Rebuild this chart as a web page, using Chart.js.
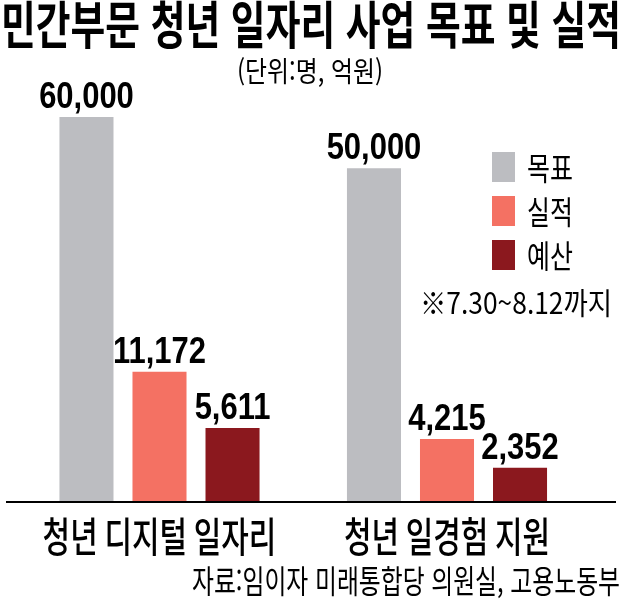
<!DOCTYPE html>
<html lang="ko">
<head>
<meta charset="utf-8">
<script src="https://cdn.jsdelivr.net/npm/chart.js@4.4.1/dist/chart.umd.min.js"></script>
<style>
  html, body { margin: 0; padding: 0; background: #fff; }
  #wrap { position: relative; width: 623px; height: 602px; overflow: hidden;
          font-family: "Noto Sans CJK KR", "Noto Sans", sans-serif; color: #000; }
  #c { position: absolute; left: 0; top: 0; }
  .t { position: absolute; white-space: nowrap; line-height: 1; transform-origin: 0 0; }
  #title { font-size: 51px; font-weight: 700; left: 1px; top: -3px; }
  #unit { font-size: 28px; left: 237px; top: 56px; }
  #note { font-size: 30px; left: 420px; top: 286px; }
  #source { font-size: 32px; left: 192px; top: 563px; }
</style>
</head>
<body>
<div id="wrap">
  <canvas id="c" width="623" height="602"></canvas>
  <div class="t" id="title" data-w="620">민간부문 청년 일자리 사업 목표 및 실적</div>
  <div class="t" id="unit" data-w="146">(단위:명, 억원)</div>
  <div class="t" id="note" data-w="192">※7.30~8.12까지</div>
  <div class="t" id="source" data-w="428">자료:임이자 미래통합당 의원실, 고용노동부</div>
</div>
<script>
const categories = ["청년 디지털 일자리", "청년 일경험 지원"];
const seriesNames = ["목표", "실적", "예산"];

// printed figures (목표·실적: 명, 예산: 억원)
const targets = [60000, 50000];
const results = [11172, 4215];
const budgets = [5611, 2352];

// bar lengths as drawn in the picture (the bars are not on one common scale)
const targetBars = [60000, 52000];
const resultBars = [20200, 9700];
const budgetBars = [11400, 5200];

const colors = ["#bcbdc1", "#f47163", "#8b181e"];

// condense text horizontally to a target width
document.querySelectorAll(".t").forEach((el) => {
  const k = +el.dataset.w / el.getBoundingClientRect().width;
  el.style.transform = `scaleX(${k})`;
});

function squeezed(ctx, text, x, y, font, k, align) {
  ctx.save();
  ctx.font = font;
  ctx.textAlign = align;
  ctx.textBaseline = "alphabetic";
  ctx.translate(x, y);
  ctx.scale(k, 1);
  ctx.fillText(text, 0, 0);
  ctx.restore();
}

const labelsPlugin = {
  id: "labels",
  afterDatasetsDraw(chart) {
    const { ctx, chartArea, scales } = chart;
    ctx.fillStyle = "#000";

    // baseline
    ctx.fillRect(6, chartArea.bottom, 610, 2);

    // value labels
    const printed = [targets, results, budgets];
    chart.data.datasets.forEach((ds, i) => {
      chart.getDatasetMeta(i).data.forEach((bar, j) => {
        squeezed(ctx, printed[i][j].toLocaleString("en-US"), bar.x, bar.y - 9,
          "bold 36px 'Liberation Sans', Arial, sans-serif", 0.86, "center");
      });
    });

    // category labels
    categories.forEach((c, j) => {
      squeezed(ctx, c, scales.x.getPixelForValue(j), 552,
        "500 41px 'Noto Sans CJK KR', sans-serif", 0.73, "center");
    });

    // legend
    chart.data.datasets.forEach((ds, i) => {
      const top = 152 + i * 44;
      ctx.fillStyle = ds.backgroundColor;
      ctx.fillRect(492, top, 23, 30);
      ctx.fillStyle = "#000";
      squeezed(ctx, ds.label, 527, top + 28,
        "32px 'Noto Sans CJK KR', sans-serif", 0.78, "left");
    });
  },
};

new Chart(document.getElementById("c"), {
  type: "bar",
  data: {
    labels: categories,
    datasets: [
      { label: seriesNames[0], data: targetBars, backgroundColor: colors[0] },
      { label: seriesNames[1], data: resultBars, backgroundColor: colors[1] },
      { label: seriesNames[2], data: budgetBars, backgroundColor: colors[2] },
    ],
  },
  options: {
    responsive: false,
    animation: false,
    devicePixelRatio: 1,
    layout: { padding: { left: 15.75, right: 32.25, top: 117, bottom: 101 } },
    datasets: { bar: { categoryPercentage: 0.762, barPercentage: 0.74, borderWidth: 0 } },
    scales: {
      x: { display: false },
      y: { display: false, min: 0, max: 60000 },
    },
    plugins: { legend: { display: false }, tooltip: { enabled: false } },
  },
  plugins: [labelsPlugin],
});
</script>
</body>
</html>
